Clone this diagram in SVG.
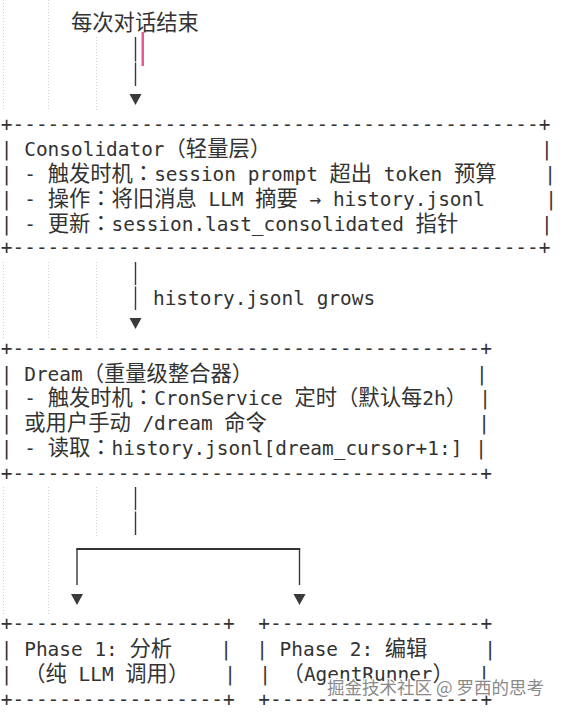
<svg xmlns="http://www.w3.org/2000/svg" width="561" height="715" viewBox="0 0 561 715" xml:space="preserve">
<style>
.t{font-family:"DejaVu Sans Mono","Noto Sans CJK SC",monospace;font-size:19.43px;fill:#333;white-space:pre}
.c{font-family:"Noto Sans CJK SC","Noto Sans CJK JP",sans-serif;font-size:21.3px}
.k{font-family:"Noto Sans CJK TC","Noto Sans CJK SC",sans-serif;font-size:21.3px}
.ln{stroke:#3a3a3a;stroke-width:1.4;fill:none}
.hb{stroke:#333;stroke-width:1.8;fill:none}
.ah{fill:#3a3a3a}
.g{stroke:#cfcfcf;stroke-width:1;stroke-dasharray:1 2;fill:none}
.wm{font-family:"Noto Sans CJK SC",sans-serif;font-size:17.5px;fill:#8a8a8a;stroke:#fff;stroke-width:2.5px;paint-order:stroke;stroke-linejoin:round}
</style>
<rect width="561" height="715" fill="#fff"/>
<g id="guides">
<path class="g" d="M3.5 0V110M48.5 0V110M96.5 37V110M3.5 262V340M48.5 262V340M96.5 262V340M3.5 487V615M48.5 487V615M96.5 487V537"/>
</g>
<g id="start">
<text class="t" x="71" y="30"><tspan class="c">每次对话结束</tspan></text>
</g>
<rect id="cursor" x="141.5" y="32" width="2.5" height="34" fill="#e75a93"/>
<g id="connectors">
<path class="ln" d="M135.5 37V61.5M135.5 62.5V86"/>
<polygon class="ah" points="129.5,94 141.5,94 135.5,105"/>
<path class="ln" d="M135.5 262V285M135.5 286.5V310"/>
<polygon class="ah" points="129.5,318 141.5,318 135.5,329"/>
<text class="t" x="152.95" y="305">history.jsonl grows</text>
<path class="ln" d="M135.5 487V510M135.5 511.5V535"/>
<path class="ln" d="M77 585V549M299.5 549V585"/>
<path class="hb" d="M76.3 549H300.2"/>
<polygon class="ah" points="71,594 83,594 77,605"/>
<polygon class="ah" points="293.5,594 305.5,594 299.5,605"/>
</g>
<g id="consolidator">
<text class="t" x="0.85" y="130.5">+---------------------------------------------+</text>
<text class="t" x="0.85" y="156">| Consolidator<tspan class="c">（轻量层）</tspan></text>
<text class="t" x="540.9" y="156">|</text>
<text class="t" x="0.85" y="181">| - <tspan class="c">触发时机</tspan><tspan class="k">：</tspan>session prompt <tspan class="c">超出</tspan> token <tspan class="c">预算</tspan></text>
<text class="t" x="544.2" y="181">|</text>
<text class="t" x="0.85" y="206">| - <tspan class="c">操作</tspan><tspan class="k">：</tspan><tspan class="c">将旧消息</tspan> LLM <tspan class="c">摘要</tspan> → history.jsonl</text>
<text class="t" x="545.2" y="206">|</text>
<text class="t" x="0.85" y="231">| - <tspan class="c">更新</tspan><tspan class="k">：</tspan>session.last_consolidated <tspan class="c">指针</tspan></text>
<text class="t" x="540.9" y="231">|</text>
<text class="t" x="0.85" y="253.5">+---------------------------------------------+</text>
</g>
<g id="dream">
<text class="t" x="0.85" y="355">+----------------------------------------+</text>
<text class="t" x="0.85" y="380.5">| Dream<tspan class="c">（重量级整合器）</tspan></text>
<text class="t" x="475.9" y="380.5">|</text>
<text class="t" x="0.85" y="405">| - <tspan class="c">触发时机</tspan><tspan class="k">：</tspan>CronService <tspan class="c">定时（默认每</tspan>2h<tspan class="c">）</tspan></text>
<text class="t" x="479.2" y="405">|</text>
<text class="t" x="0.85" y="430">| <tspan class="c">或用户手动</tspan> /dream <tspan class="c">命令</tspan></text>
<text class="t" x="478.2" y="430">|</text>
<text class="t" x="0.85" y="455">| - <tspan class="c">读取</tspan><tspan class="k">：</tspan>history.jsonl[dream_cursor+1:]</text>
<text class="t" x="475.2" y="455">|</text>
<text class="t" x="0.85" y="480">+----------------------------------------+</text>
</g>
<g id="phase1">
<text class="t" x="0.85" y="629.5">+------------------+</text>
<text class="t" x="0.85" y="656">| Phase 1: <tspan class="c">分析</tspan></text>
<text class="t" x="220.2" y="656">|</text>
<text class="t" x="0.85" y="680.5">| <tspan class="c">（纯</tspan> LLM <tspan class="c">调用）</tspan></text>
<text class="t" x="224.2" y="680.5">|</text>
<text class="t" x="0.85" y="705.5">+------------------+</text>
</g>
<g id="phase2">
<text class="t" x="258.25" y="629.5">+------------------+</text>
<text class="t" x="256.2" y="656">| Phase 2: <tspan class="c">编辑</tspan></text>
<text class="t" x="484.2" y="656">|</text>
<text class="t" x="259.2" y="680.5">| <tspan class="c">（</tspan>AgentRunner<tspan class="c">）</tspan></text>
<text class="t" x="478.2" y="680.5">|</text>
<text class="t" x="258.25" y="705.5">+------------------+</text>
</g>
<g id="watermark">
<text class="wm" x="327" y="693.5">掘金技术社区 @ 罗西的思考</text>
</g>
</svg>
